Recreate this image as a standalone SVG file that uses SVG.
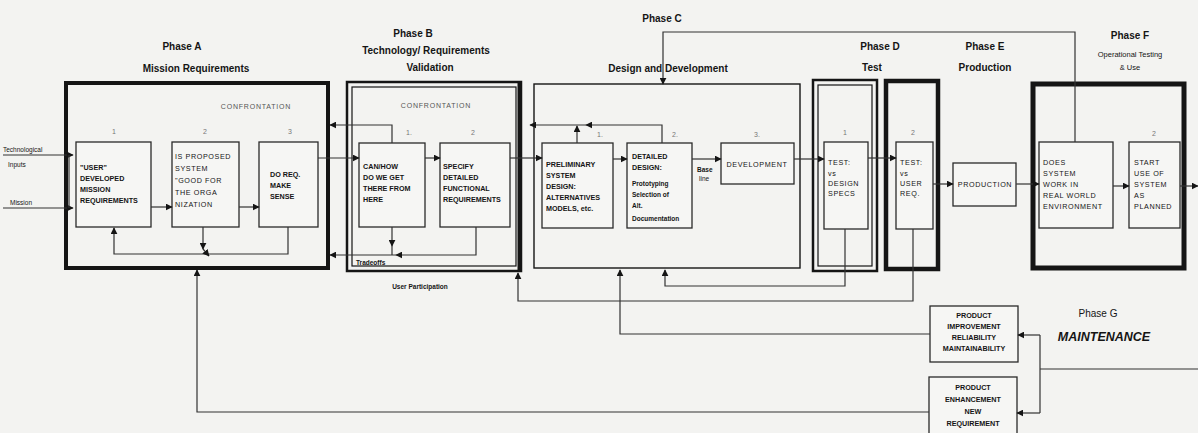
<svg xmlns="http://www.w3.org/2000/svg" width="1198" height="433" viewBox="0 0 1198 433">
<style>
.bg{fill:#f3f3f1}
.frame{fill:none;stroke:#151515}
.box{fill:#f6f6f4;stroke:#2a2a2a;stroke-width:1.3}
.c{fill:none;stroke:#333;stroke-width:1.2}
.t{font-family:"Liberation Sans",Arial,sans-serif;fill:#151515}
.ph{font-size:10px;font-weight:bold;text-anchor:middle}
.bx{font-size:7.2px;font-weight:bold}
.bl{font-size:7.2px;letter-spacing:0.6px}
.num{font-size:7px;fill:#777;text-anchor:middle}
.conf{font-size:7px;fill:#555;letter-spacing:0.8px;text-anchor:middle}
.sm{font-size:6.5px}
</style>
<defs>
<marker id="ah" viewBox="0 0 10 10" refX="9" refY="5" markerUnits="userSpaceOnUse" markerWidth="7" markerHeight="7" orient="auto">
<path d="M0,0 L10,5 L0,10 z" fill="#151515"/>
</marker>
</defs>
<rect class="bg" x="0" y="0" width="1198" height="433"/>

<!-- Phase A -->
<g id="phaseA">
<rect class="frame" x="66" y="83" width="262" height="185" stroke-width="4"/>
<text class="t ph" x="182" y="50">Phase A</text>
<text class="t ph" x="196" y="72">Mission Requirements</text>
<text class="t conf" x="256" y="109">CONFRONTATION</text>
</g>
<g id="A1">
<rect class="box" x="76" y="142" width="75" height="85"/>
<text class="t num" x="114" y="134">1</text>
<text class="t bx" x="80"><tspan x="80" y="170">"USER"</tspan><tspan x="80" y="181">DEVELOPED</tspan><tspan x="80" y="192">MISSION</tspan><tspan x="80" y="203">REQUIREMENTS</tspan></text>
</g>
<g id="A2">
<rect class="box" x="172" y="142" width="67" height="85"/>
<text class="t num" x="205" y="134">2</text>
<text class="t bl"><tspan x="175" y="159">IS PROPOSED</tspan><tspan x="175" y="171">SYSTEM</tspan><tspan x="175" y="183">"GOOD FOR</tspan><tspan x="175" y="195">THE ORGA</tspan><tspan x="175" y="207">NIZATION</tspan></text>
</g>
<g id="A3">
<rect class="box" x="259" y="142" width="59" height="85"/>
<text class="t num" x="290" y="134">3</text>
<text class="t bx"><tspan x="270" y="177">DO REQ.</tspan><tspan x="270" y="188">MAKE</tspan><tspan x="270" y="199">SENSE</tspan></text>
</g>
<g id="inputs">
<text class="t sm"><tspan x="3" y="152">Technological</tspan><tspan x="8" y="167">Inputs</tspan><tspan x="10" y="205">Mission</tspan></text>
</g>

<!-- Phase B -->
<g id="phaseB">
<rect class="frame" x="347" y="82" width="174" height="189" stroke-width="2.5"/>
<rect class="frame" x="352" y="87" width="164" height="179" stroke-width="1.2"/>
<line class="frame" x1="519" y1="82" x2="519" y2="271" stroke-width="3"/>
<text class="t ph" x="413" y="37">Phase B</text>
<text class="t ph" x="426" y="54">Technology/ Requirements</text>
<text class="t ph" x="430" y="71">Validation</text>
<text class="t conf" x="436" y="108">CONFRONTATION</text>
<text class="t sm" x="356" y="265" font-weight="bold">Tradeoffs</text>
<text class="t sm" x="420" y="289" text-anchor="middle" font-weight="bold">User Participation</text>
</g>
<g id="B1">
<rect class="box" x="359" y="143" width="66" height="84"/>
<text class="t num" x="409" y="135">1.</text>
<text class="t bx"><tspan x="363" y="169">CAN/HOW</tspan><tspan x="363" y="180">DO WE GET</tspan><tspan x="363" y="191">THERE FROM</tspan><tspan x="363" y="202">HERE</tspan></text>
</g>
<g id="B2">
<rect class="box" x="440" y="143" width="70" height="84"/>
<text class="t num" x="473" y="135">2</text>
<text class="t bx"><tspan x="443" y="169">SPECIFY</tspan><tspan x="443" y="180">DETAILED</tspan><tspan x="443" y="191">FUNCTIONAL</tspan><tspan x="443" y="202">REQUIREMENTS</tspan></text>
</g>

<!-- Phase C -->
<g id="phaseC">
<rect class="frame" x="534" y="84" width="266" height="184" stroke-width="1.4"/>
<text class="t ph" x="662" y="22">Phase C</text>
<text class="t ph" x="668" y="72" font-weight="normal">Design and Development</text>
</g>
<g id="C1">
<rect class="box" x="542" y="143" width="71" height="85"/>
<text class="t num" x="600" y="137">1.</text>
<text class="t bx"><tspan x="546" y="167">PRELIMINARY</tspan><tspan x="546" y="178">SYSTEM</tspan><tspan x="546" y="189">DESIGN:</tspan><tspan x="546" y="200">ALTERNATIVES</tspan><tspan x="546" y="211">MODELS, etc.</tspan></text>
</g>
<g id="C2">
<rect class="box" x="627" y="143" width="65" height="85"/>
<text class="t num" x="675" y="137">2.</text>
<text class="t bx" font-weight="normal"><tspan x="632" y="159">DETAILED</tspan><tspan x="632" y="170">DESIGN:</tspan></text>
<text class="t sm" font-weight="bold"><tspan x="632" y="186">Prototyping</tspan><tspan x="632" y="197">Selection of</tspan><tspan x="632" y="208">Alt.</tspan><tspan x="632" y="221">Documentation</tspan></text>
</g>
<g id="C3">
<rect class="box" x="721" y="143" width="73" height="41"/>
<text class="t num" x="757" y="137">3.</text>
<text class="t bl" x="757" y="167" text-anchor="middle">DEVELOPMENT</text>
</g>
<g id="baseline">
<text class="t sm" font-weight="bold"><tspan x="697" y="172">Base</tspan><tspan x="699" y="181" font-weight="normal">line</tspan></text>
</g>

<!-- Phase D -->
<g id="phaseD">
<rect class="frame" x="813" y="80" width="64" height="191" stroke-width="2.5"/>
<rect class="frame" x="818" y="85" width="54" height="181" stroke-width="1.2"/>
<rect class="frame" x="886" y="81" width="52" height="188" stroke-width="4.5"/>
<text class="t ph" x="880" y="50">Phase D</text>
<text class="t ph" x="872" y="71">Test</text>
</g>
<g id="D1">
<rect class="box" x="824" y="142" width="44" height="87"/>
<text class="t num" x="845" y="135">1</text>
<text class="t bl" font-size="6.5px"><tspan x="828" y="165">TEST:</tspan><tspan x="828" y="176">vs</tspan><tspan x="828" y="186">DESIGN</tspan><tspan x="828" y="196">SPECS</tspan></text>
</g>
<g id="D2">
<rect class="box" x="896" y="142" width="37" height="87"/>
<text class="t num" x="913" y="135">2</text>
<text class="t bl" font-size="6.5px"><tspan x="900" y="165">TEST:</tspan><tspan x="900" y="176">vs</tspan><tspan x="900" y="186">USER</tspan><tspan x="900" y="196">REQ.</tspan></text>
</g>

<!-- Phase E -->
<g id="phaseE">
<text class="t ph" x="985" y="50">Phase E</text>
<text class="t ph" x="985" y="71" font-weight="normal">Production</text>
</g>
<g id="E1">
<rect class="box" x="953" y="163" width="63" height="43"/>
<text class="t bl" font-size="6.5px" x="985" y="187" text-anchor="middle">PRODUCTION</text>
</g>

<!-- Phase F -->
<g id="phaseF">
<rect class="frame" x="1033" y="84" width="151" height="184" stroke-width="5"/>
<text class="t ph" x="1130" y="39">Phase F</text>
<text class="t" font-size="7.5px" x="1130" y="57" text-anchor="middle" fill="#444">Operational Testing</text>
<text class="t" font-size="7.5px" x="1130" y="70" text-anchor="middle" fill="#444">&amp; Use</text>
</g>
<g id="F1">
<rect class="box" x="1039" y="142" width="74" height="86"/>
<text class="t bl" font-size="6.5px"><tspan x="1043" y="165">DOES</tspan><tspan x="1043" y="176">SYSTEM</tspan><tspan x="1043" y="187">WORK IN</tspan><tspan x="1043" y="198">REAL WORLD</tspan><tspan x="1043" y="209">ENVIRONMENT</tspan></text>
</g>
<g id="F2">
<rect class="box" x="1129" y="142" width="51" height="86"/>
<text class="t num" x="1154" y="136">2</text>
<text class="t bl" font-size="6.5px"><tspan x="1134" y="165">START</tspan><tspan x="1134" y="176">USE OF</tspan><tspan x="1134" y="187">SYSTEM</tspan><tspan x="1134" y="198">AS</tspan><tspan x="1134" y="209">PLANNED</tspan></text>
</g>

<!-- Phase G -->
<g id="phaseG">
<text class="t" x="1098" y="317" font-size="10px" text-anchor="middle">Phase G</text>
<text class="t" x="1104" y="341" font-size="12.5px" font-weight="bold" font-style="italic" text-anchor="middle">MAINTENANCE</text>
</g>
<g id="G1">
<rect class="box" x="930" y="306" width="88" height="56"/>
<text class="t bx" font-size="6.3px" text-anchor="middle"><tspan x="974" y="318">PRODUCT</tspan><tspan x="974" y="329">IMPROVEMENT</tspan><tspan x="974" y="340">RELIABILITY</tspan><tspan x="974" y="351">MAINTAINABILITY</tspan></text>
</g>
<g id="G2">
<rect class="box" x="929" y="377" width="88" height="60"/>
<text class="t bx" font-size="6.3px" text-anchor="middle"><tspan x="973" y="390">PRODUCT</tspan><tspan x="973" y="402">ENHANCEMENT</tspan><tspan x="973" y="414">NEW</tspan><tspan x="973" y="426">REQUIREMENT</tspan></text>
</g>

<!-- Connectors -->
<g id="connectors">
<path class="c" d="M3,155 H73" marker-end="url(#ah)"/>
<path class="c" d="M3,208 H73" marker-end="url(#ah)"/>
<path class="c" d="M69,155 V208"/>
<path class="c" d="M151,207 H172" marker-end="url(#ah)"/>
<path class="c" d="M239,207 H259" marker-end="url(#ah)"/>
<path class="c" d="M318,158 H359" marker-end="url(#ah)"/>
<path class="c" d="M288,227 V254 H114 V228" marker-end="url(#ah)"/>
<path class="c" d="M203,227 V249" marker-end="url(#ah)"/>
<path class="c" d="M203,249 L209,256" marker-end="url(#ah)"/>
<path class="c" d="M392,143 V125 H330" marker-end="url(#ah)"/>
<path class="c" d="M392,227 V246" marker-end="url(#ah)"/>
<path class="c" d="M392,246 V255"/>
<path class="c" d="M476,227 V255 H396" marker-end="url(#ah)"/>
<path class="c" d="M396,255 H330" marker-end="url(#ah)"/>
<path class="c" d="M425,158 H440" marker-end="url(#ah)"/>
<path class="c" d="M510,158 H542" marker-end="url(#ah)"/>
<path class="c" d="M662,143 V125 H586" marker-end="url(#ah)"/>
<path class="c" d="M586,125 H530" marker-end="url(#ah)"/>
<path class="c" d="M577,143 V126" marker-end="url(#ah)"/>
<path class="c" d="M1075,142 V32 H663 V84" marker-end="url(#ah)"/>
<path class="c" d="M613,159 H627" marker-end="url(#ah)"/>
<path class="c" d="M692,159 H721" marker-end="url(#ah)"/>
<path class="c" d="M794,159 H824" marker-end="url(#ah)"/>
<path class="c" d="M868,158 H896" marker-end="url(#ah)"/>
<path class="c" d="M933,184 H953" marker-end="url(#ah)"/>
<path class="c" d="M1016,184 H1039" marker-end="url(#ah)"/>
<path class="c" d="M1113,186 H1129" marker-end="url(#ah)"/>
<path class="c" d="M1180,186 H1198" marker-end="url(#ah)"/>
<path class="c" d="M845,229 V286 H665 V270" marker-end="url(#ah)"/>
<path class="c" d="M913,229 V301 H518 V273" marker-end="url(#ah)"/>
<path class="c" d="M930,334 H620 V270" marker-end="url(#ah)"/>
<path class="c" d="M929,412 H197 V270" marker-end="url(#ah)"/>
<path class="c" d="M1198,369 H1040"/>
<path class="c" d="M1040,335 V413"/>
<path class="c" d="M1040,335 H1018" marker-end="url(#ah)"/>
<path class="c" d="M1040,413 H1017" marker-end="url(#ah)"/>
</g>
</svg>
